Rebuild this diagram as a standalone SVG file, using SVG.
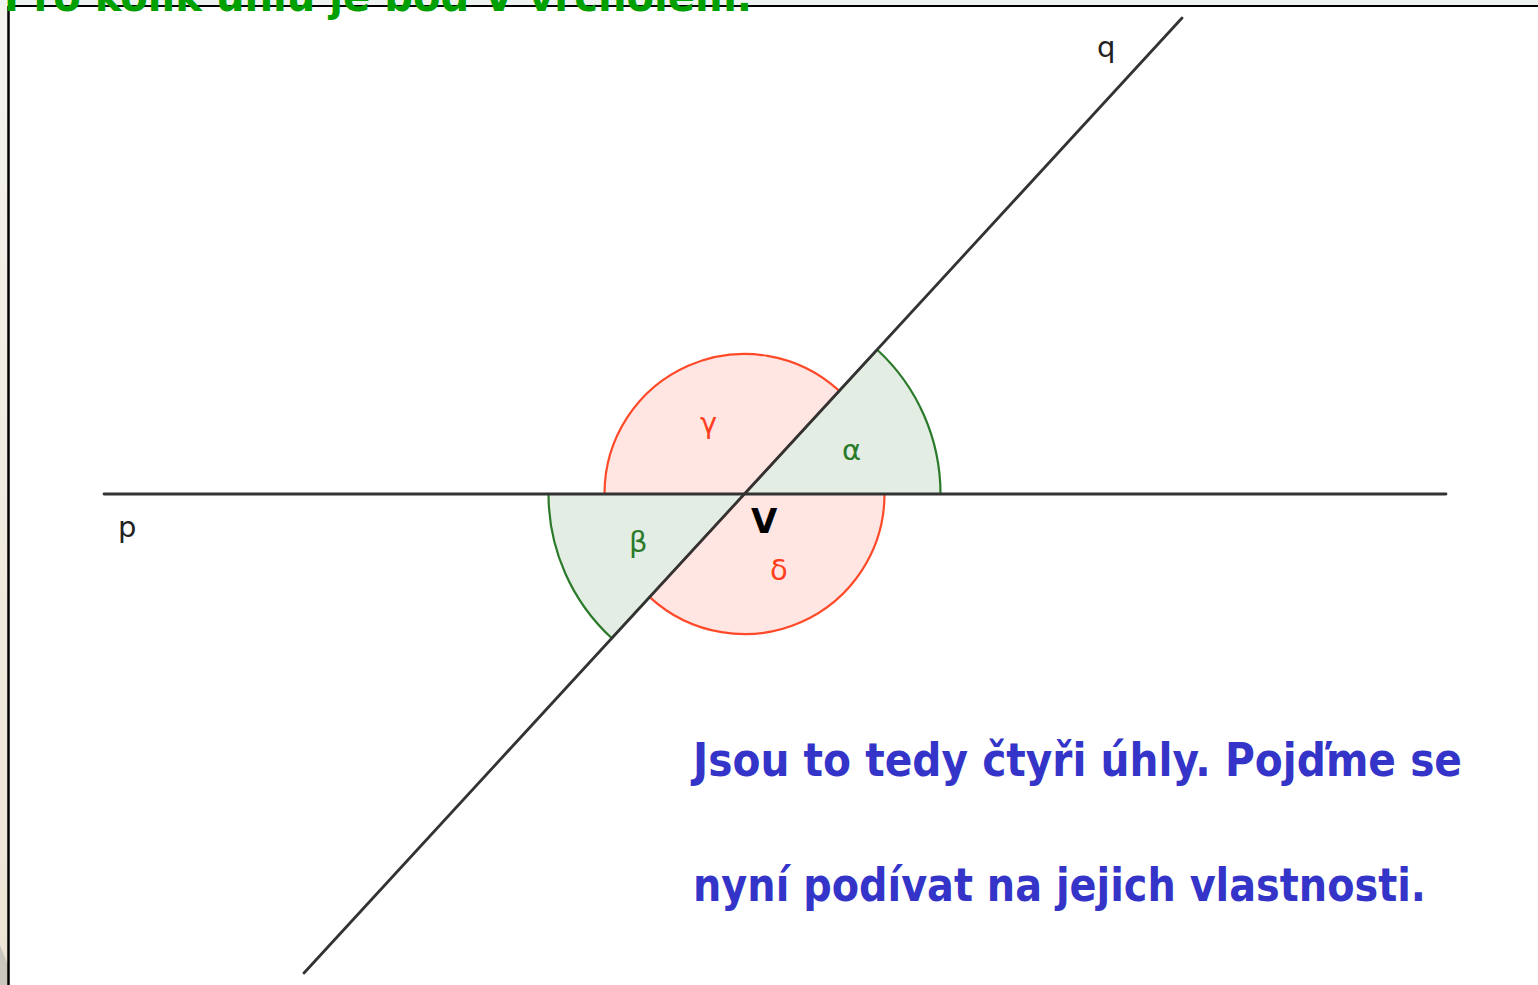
<svg xmlns="http://www.w3.org/2000/svg" width="1538" height="985" viewBox="0 0 1538 985">
<defs>
<linearGradient id="bg" x1="0" y1="0" x2="0" y2="1">
<stop offset="0" stop-color="#f4f3ee"/>
<stop offset="1" stop-color="#ece3d3"/>
</linearGradient>
</defs>
<style>
.ln{stroke:#333;stroke-width:2.8;fill:none;stroke-linecap:round}
.gs{fill:#e3ede3;stroke:#2a7a2a;stroke-width:2.2}
.rs{fill:#ffe6e2;stroke:#ff4a2a;stroke-width:2.2}
.lab{font-family:"DejaVu Sans","Liberation Sans",sans-serif;font-size:29px}
.blue{font-family:"DejaVu Sans","Liberation Sans",sans-serif;font-weight:bold;font-size:46px;fill:#3434c8}
</style>
<rect x="0" y="0" width="1538" height="985" fill="url(#bg)"/>
<rect x="0" y="0" width="1538" height="6" fill="#eef3f2"/>
<polygon points="0,945 8,965 8,985 0,985" fill="#c9c6bd"/>
<rect x="9" y="7" width="1529" height="978" fill="#ffffff"/>
<line x1="8" y1="6" x2="1538" y2="6" stroke="#000" stroke-width="2"/>
<line x1="8.5" y1="6" x2="8.5" y2="985" stroke="#000" stroke-width="2.5"/>
<g id="title">
<text x="4" y="11" font-family="DejaVu Sans, Liberation Sans, sans-serif" font-weight="bold" font-size="42" fill="#00a000" textLength="748" lengthAdjust="spacingAndGlyphs">Pro kolik úhlů je bod V vrcholem.</text>
</g>
<g id="angles">
<g id="alpha"><path class="gs" d="M744.5,494 L940.5,494 A196,196 0 0 0 877.2,349.7 Z"/></g>
<g id="beta"><path class="gs" d="M744.5,494 L548.5,494 A196,196 0 0 0 611.8,638.3 Z"/></g>
<g id="gamma"><path class="rs" d="M744.5,494 L839.3,390.9 A140,140 0 0 0 604.5,494 Z"/></g>
<g id="delta"><path class="rs" d="M744.5,494 L884.5,494 A140,140 0 0 1 649.7,597.1 Z"/></g>
</g>
<g id="connectors">
<line id="p" class="ln" x1="104" y1="494" x2="1446" y2="494"/>
<line id="q" class="ln" x1="1182" y1="18" x2="304" y2="973"/>
</g>
<g id="labels">
<text class="lab" x="1097" y="57" fill="#222">q</text>
<text class="lab" x="118" y="537" fill="#222">p</text>
<text class="lab" x="700" y="433" fill="#ff4020">γ</text>
<text class="lab" x="842" y="460" fill="#2a7a2a">α</text>
<text class="lab" x="629" y="552" fill="#2a7a2a">β</text>
<text class="lab" x="770" y="580" fill="#ff4020">δ</text>
<text x="751" y="533" font-family="DejaVu Sans, Liberation Sans, sans-serif" font-weight="bold" font-size="34" fill="#000">V</text>
</g>
<g id="text">
<text class="blue" x="693" y="776" textLength="769" lengthAdjust="spacingAndGlyphs">Jsou to tedy čtyři úhly. Pojďme se</text>
<text class="blue" x="693" y="901" textLength="733" lengthAdjust="spacingAndGlyphs">nyní podívat na jejich vlastnosti.</text>
</g>
</svg>
